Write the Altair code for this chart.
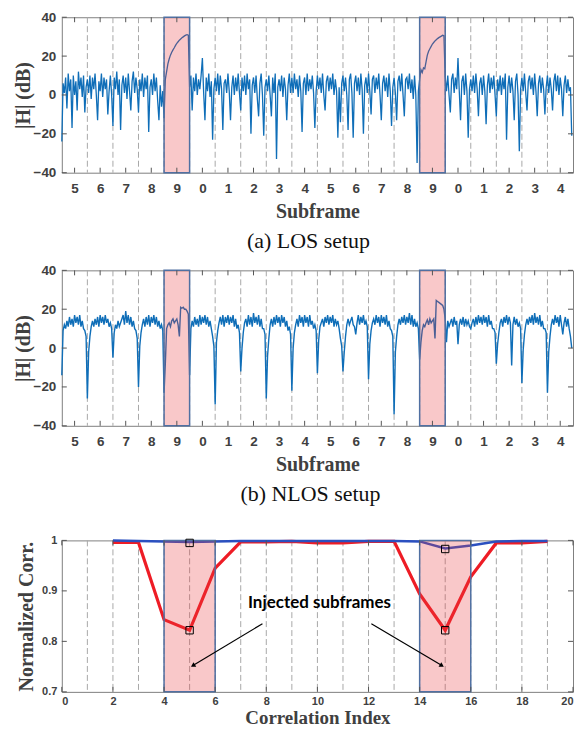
import altair as alt
import pandas as pd

# ---------------- data ----------------
subframe_labels = ["5", "6", "7", "8", "9", "0", "1", "2", "3", "4",
                   "5", "6", "7", "8", "9", "0", "1", "2", "3", "4"]
samples_per_subframe = 20

# (a) LOS |H| in dB, 20 readings per subframe slot (one row per slot)
los_db = [
    -24, 6, 1, 9, -7, 11, 2, 8, -17, 10, 0, 7, -8, 12, 3, 9, -1, 10, -9, 4,
    8, 1, 10, -2, 9, 3, 11, 0, -13, 7, 2, 11, -1, 9, 3, 8, -10, 2, 10, 0,
    -16, 9, 3, 12, 0, 8, -18, 5, 10, 1, 9, -2, 11, 2, -8, 7, 12, 1, 9, 3,
    -9, 8, 2, 11, -1, 9, 3, 10, -19, 4, 8, 0, 11, 2, 9, -3, -13, 5, -6, 2,
    -12, 8, 12, 16, 18.5, 20.5, 22, 23.2, 24.3, 25.5, 26.6, 27.4, 28.2, 28.8, 29.4, 29.9, 30.4, 30.8, 31, 30.8,
    4, 10, -8, 9, 2, 11, 0, 8, 3, 10, 19, 1, -13, 9, 2, 11, -1, 7, -23, 3,
    9, 2, 11, 0, 10, 3, -18, 6, 8, 1, 11, 2, -13, 4, 10, 0, 9, 2, 11, 1,
    -8, 9, 2, 10, 0, 11, 3, 8, -20, 5, 9, 1, 10, -2, -11, 6, 11, 0, -21, 4,
    8, 2, 10, 0, -11, 9, 1, 11, -33, 4, 8, 2, 10, -1, 9, 3, -13, 5, 11, 1,
    9, 1, 11, 3, 8, -1, 10, 2, -19, 6, 9, 0, 11, 2, 8, 3, 10, 1, -17, 2,
    10, 3, 9, 1, 11, 0, -8, 7, 10, 2, 9, 3, 11, 0, 8, 2, -22, 4, -14, 6,
    10, 2, 9, 0, -18, 8, 11, 1, -22, 6, 10, 2, 9, 0, 11, 3, -20, 5, 9, 1,
    11, 2, -10, 8, 10, 1, 9, 3, 11, 0, -13, 6, 10, 2, 9, -1, 11, 2, -16, 4,
    9, 1, -13, 7, 10, 2, 11, 0, -11, 8, 9, 3, 11, 1, 8, -2, 10, 0, -35, 2,
    8, 13, 11.5, 14, 13.5, 17, 20.5, 22.5, 23.8, 25, 26.2, 27, 27.8, 28.4, 29, 29.5, 29.9, 30.3, 30.7, 30.5,
    9, 2, 10, 0, -9, 8, 11, 1, 9, 3, 19, 2, -13, 7, 10, 0, 11, 2, -22, 3,
    8, 2, 10, 1, 11, 3, -11, 6, 9, 0, 10, 2, -15, 5, 11, 1, 9, 3, 10, 0,
    -11, 8, 2, 10, 0, 9, 3, 11, -23, 4, 10, 1, 9, 2, -13, 7, 11, 0, -29, 3,
    9, 2, 11, 1, -8, 7, 10, 3, 9, 0, 11, 2, -11, 6, 10, 1, 9, 3, -10, 4,
    10, 1, 9, 3, -8, 7, 11, 2, 10, 0, 9, 3, -11, 5, 10, 1, 8, 2, 4, -21,
]

# (b) NLOS |H| in dB
nlos_db = [
    -14, 9, 12, 10, 14, 11, 16, 12, 15, 11, 17, 13, 16, 12, 17, 11, 14, 10, 9, 6,
    -26, -2, 6, 11, 14, 11, 15, 12, 16, 11, 17, 13, 16, 12, 17, 13, 15, 11, 13, 10,
    -5, 8, 12, 10, 14, 11, 13, 15, 17, 12, 19, 13, 17, 12, 16, 11, 14, 10, 9, 5,
    -20, 1, 8, 12, 15, 11, 16, 12, 17, 11, 16, 13, 17, 12, 16, 11, 14, 10, 12, 9,
    -23, -8, 10, 12, 13, 11, 14, 15, 13, 14, 15, 12, 6, 21, 20.5, 21, 20, 20, 19, 17.5,
    -14, 10, 14, 11, 16, 12, 15, 11, 17, 12, 16, 13, 17, 12, 16, 11, 14, 10, 6, 1,
    -29, 3, 9, 13, 16, 12, 17, 11, 16, 13, 17, 12, 16, 13, 17, 11, 15, 10, 12, 8,
    -12, 0, 8, 13, 15, 11, 17, 12, 16, 11, 18, 13, 16, 12, 17, 11, 15, 10, 10, 7,
    -26, -4, 5, 12, 15, 11, 16, 12, 17, 13, 16, 11, 17, 13, 16, 11, 14, 9, 11, 7,
    -22, 0, 8, 12, 15, 11, 17, 13, 16, 11, 17, 13, 16, 11, 17, 12, 14, 10, 12, 9,
    -13, 4, 11, 13, 15, 11, 16, 13, 17, 12, 16, 13, 17, 11, 15, 12, 14, 10, 5, 1,
    -12, -2, 6, 12, 15, 12, 14, 16, 12, 11, 7, 13, 17, 12, 16, 13, 17, 12, 14, 11,
    -16, 2, 9, 13, 15, 12, 17, 13, 16, 11, 17, 13, 16, 12, 17, 11, 14, 10, 9, 6,
    -34, -2, 6, 12, 15, 12, 16, 13, 17, 12, 16, 13, 18, 12, 17, 11, 15, 11, 13, 10,
    -6, 3, 9, 12, 11, 13, 14.5, 12, 15, 13, 14, 15, 5, 24.5, 24, 23.5, 23, 22.5, 22, 20,
    15, 3, 14, 11, 13, 15, 11, 16, 12, 14, 2, 12, 15, 12, 16, 11, 15, 12, 14, 11,
    10, 13, 15, 11, 16, 12, 17, 13, 16, 12, 17, 13, 16, 11, 17, 12, 14, 10, 10, 8,
    -8, 2, 8, 13, 15, 11, 16, 13, 17, 12, 16, 13, -9, 12, 16, 12, 15, 11, 13, 10,
    -18, -1, 7, 12, 15, 12, 16, 13, 17, 12, 18, 13, 16, 12, 17, 11, 14, 10, 10, 8,
    -23, -2, 6, 12, 15, 12, 17, 13, 16, 11, 17, 12, 7, 13, 16, 11, 15, 10, 6, 0,
]

injected_slot_start = [4, 14]
injected_slot_end = [5, 15]
db_ticks = [-40, -20, 0, 20, 40]

# (c) normalized correlation
corr_index = [2, 3, 4, 5, 6, 7, 8, 9, 10, 11, 12, 13, 14, 15, 16, 17, 18, 19]
corr_red = [0.996, 0.996, 0.843, 0.822, 0.945, 0.997, 0.997, 0.998, 0.995,
            0.995, 0.998, 0.998, 0.894, 0.822, 0.928, 0.995, 0.995, 0.998]
corr_blue = [1.0, 0.999, 0.998, 0.997, 0.998, 0.999, 0.999, 0.999, 0.999,
             0.999, 0.999, 0.999, 0.998, 0.984, 0.990, 0.998, 0.999, 0.999]
marker_x = [5, 5, 15, 15]
marker_y = [0.995, 0.822, 0.983, 0.822]
corr_inj_start = [4, 14]
corr_inj_end = [6, 16]
corr_xticks = [0, 2, 4, 6, 8, 10, 12, 14, 16, 18, 20]
corr_yticks = [0.7, 0.8, 0.9, 1.0]
annot_text = "Injected subframes"
annot_x, annot_y = 10.08, 0.875
arrow_x0 = [7.85, 12.11]
arrow_y0 = [0.835, 0.835]
arrow_x1 = [5.13, 14.87]
arrow_y1 = [0.752, 0.752]

# ---------------- styling ----------------
W = 513
SANS = "Liberation Sans"
SERIF = "Liberation Serif"
GRAY = "#404040"
PINK = "#E8383D"
EDGE = "#5070A2"
DASH = "#A8A8A8"
TICK = "#555555"
TL = 5


def make_panel(xs, ys, xaxis, yaxis, h, xticks, yticks, dash_vals, patch_s, patch_e, data_layers):
    X = lambda f: alt.X(f, scale=xs, axis=xaxis)
    Y = lambda f: alt.Y(f, scale=ys, axis=yaxis)
    dashed = alt.Chart(pd.DataFrame({"b": dash_vals})).mark_rule(
        color=DASH, strokeDash=[6, 3], strokeWidth=1).encode(x=X("b:Q"))
    patch = alt.Chart(pd.DataFrame({"s": patch_s, "e": patch_e})).mark_rect(
        fill=PINK, fillOpacity=0.28, stroke=EDGE, strokeWidth=1.5).encode(
        x=X("s:Q"), x2="e:Q", y=alt.value(0), y2=alt.value(h))
    tx = pd.DataFrame({"v": xticks})
    ty = pd.DataFrame({"v": yticks})
    ticks = [
        alt.Chart(tx).mark_rule(color=TICK, strokeWidth=1).encode(
            x=X("v:Q"), y=alt.value(0), y2=alt.value(TL)),
        alt.Chart(tx).mark_rule(color=TICK, strokeWidth=1).encode(
            x=X("v:Q"), y=alt.value(h), y2=alt.value(h - TL)),
        alt.Chart(ty).mark_rule(color=TICK, strokeWidth=1).encode(
            y=Y("v:Q"), x=alt.value(0), x2=alt.value(TL)),
        alt.Chart(ty).mark_rule(color=TICK, strokeWidth=1).encode(
            y=Y("v:Q"), x=alt.value(W), x2=alt.value(W - TL)),
    ]
    body = data_layers(X, Y)
    return [dashed] + body[:1] + [patch] + body[1:] + ticks


def signal_panel(values, h, caption, cap_dx, lw):
    n = len(subframe_labels)
    df = pd.DataFrame({"t": [i / samples_per_subframe for i in range(len(values))],
                       "db": values})
    xs = alt.Scale(domain=[0, n], nice=False, zero=False)
    ys = alt.Scale(domain=[db_ticks[0], db_ticks[-1]], nice=False, zero=False)
    centers = [k + 0.5 for k in range(n)]
    label_expr = "[" + ",".join("'%s'" % s for s in subframe_labels) + "][floor(datum.value)]"
    xaxis = alt.Axis(values=centers, labelExpr=label_expr, title="Subframe",
                     ticks=False, domain=False, grid=False,
                     labelFont=SANS, labelFontWeight="bold", labelFontSize=13.5,
                     labelColor=GRAY, labelPadding=9,
                     titleFont=SERIF, titleFontWeight="bold", titleFontSize=20,
                     titleColor=GRAY, titlePadding=6)
    yaxis = alt.Axis(values=db_ticks, title="|H| (dB)", ticks=False, domain=False,
                     grid=False, labelFont=SANS, labelFontWeight="bold",
                     labelFontSize=13.5, labelColor=GRAY, labelPadding=6,
                     titleFont=SERIF, titleFontWeight="bold", titleFontSize=20,
                     titleColor=GRAY, titlePadding=0)

    def data_layers(X, Y):
        line = alt.Chart(df).mark_line(color="#0F6EB8", strokeWidth=lw).encode(
            x=X("t:Q"), y=Y("db:Q"))
        return [line]

    layers = make_panel(xs, ys, xaxis, yaxis, h, centers, db_ticks, list(range(1, n)),
                        injected_slot_start, injected_slot_end, data_layers)
    return alt.layer(*layers).properties(
        width=W, height=h,
        title=alt.TitleParams(caption, orient="bottom", font=SERIF, fontSize=22,
                              fontWeight="normal", color="#111111", offset=10, dx=cap_dx))


panel_a = signal_panel(los_db, 156, "(a) LOS setup", -9, 1.3)
panel_b = signal_panel(nlos_db, 156, "(b) NLOS setup", -7, 1.4)

# ---- panel c ----
HC = 152
xs_c = alt.Scale(domain=[0, 20], nice=False, zero=False)
ys_c = alt.Scale(domain=[0.7, 1.0], nice=False, zero=False)
cdf = pd.DataFrame({"idx": corr_index, "red": corr_red, "blue": corr_blue})
xaxis_c = alt.Axis(values=corr_xticks, title="Correlation Index", ticks=False, domain=False,
                   grid=False, labelFont=SANS, labelFontWeight="bold", labelFontSize=11,
                   labelColor=GRAY, labelPadding=4, labelFlush=True,
                   titleFont=SERIF, titleFontWeight="bold",
                   titleFontSize=19, titleColor=GRAY, titlePadding=2)
yaxis_c = alt.Axis(values=corr_yticks, format="~g", title="Normalized Corr.", ticks=False,
                   domain=False, grid=False, labelFont=SANS, labelFontWeight="bold",
                   labelFontSize=11, labelColor=GRAY, labelPadding=5, titleFont=SERIF,
                   titleFontWeight="bold", titleFontSize=20, titleColor=GRAY, titlePadding=5)
arr_df = pd.DataFrame({"x0": arrow_x0, "y0": arrow_y0, "x1": arrow_x1, "y1": arrow_y1})


def corr_layers(X, Y):
    red = alt.Chart(cdf).mark_line(color="#EE1C25", strokeWidth=3.2).encode(
        x=X("idx:Q"), y=Y("red:Q"))
    blue = alt.Chart(cdf).mark_line(color="#2B50C0", strokeWidth=2.5).encode(
        x=X("idx:Q"), y=Y("blue:Q"))
    marks = alt.Chart(pd.DataFrame({"x": marker_x, "y": marker_y})).mark_point(
        shape="square", size=55, color="black", filled=False, strokeWidth=1, opacity=1).encode(
        x=X("x:Q"), y=Y("y:Q"))
    arrows = alt.Chart(arr_df).mark_rule(color="black", strokeWidth=1.2).encode(
        x=X("x0:Q"), y=Y("y0:Q"), x2="x1:Q", y2="y1:Q")
    head_l = alt.Chart(arr_df.iloc[[0]]).mark_point(
        shape="triangle-up", filled=True, size=28, color="black", opacity=1, angle=238).encode(
        x=X("x1:Q"), y=Y("y1:Q"))
    head_r = alt.Chart(arr_df.iloc[[1]]).mark_point(
        shape="triangle-up", filled=True, size=28, color="black", opacity=1, angle=122).encode(
        x=X("x1:Q"), y=Y("y1:Q"))
    txt = alt.Chart(pd.DataFrame({"x": [annot_x], "y": [annot_y], "s": [annot_text]})).mark_text(
        font="Lato", fontWeight="bold", fontSize=17, color="black").encode(
        x=X("x:Q"), y=Y("y:Q"), text="s:N")
    return [alt.layer(red, blue), marks, arrows, head_l, head_r, txt]


layers_c = make_panel(xs_c, ys_c, xaxis_c, yaxis_c, HC, corr_xticks, corr_yticks,
                      list(range(1, 20)), corr_inj_start, corr_inj_end, corr_layers)
panel_c = alt.layer(*layers_c).properties(width=W, height=HC)

top_two = alt.vconcat(panel_a, panel_b, spacing=10)
chart = alt.vconcat(top_two, panel_c, spacing=28).properties(
    padding={"left": 4, "top": 0, "right": 0, "bottom": 0}
).configure_view(stroke="#808080", strokeWidth=1)

chart.save("out.html", embed_options={"renderer": "svg", "actions": False})
